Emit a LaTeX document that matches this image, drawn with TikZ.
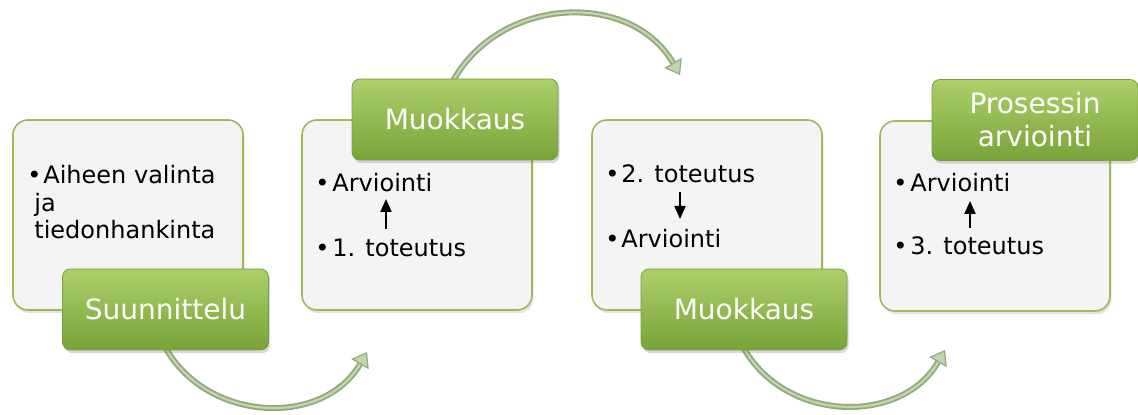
\documentclass[tikz,border=0pt]{standalone}
\usepackage{fontspec}
\setmainfont{DejaVu Sans}
\usetikzlibrary{arrows.meta,shadows}
\definecolor{boxfill}{HTML}{F4F4F4}
\definecolor{boxline}{HTML}{9BBB59}
\definecolor{gtop}{HTML}{ACD06A}
\definecolor{gmid}{HTML}{8FBA4A}
\definecolor{gbot}{HTML}{79A338}
\definecolor{gline}{HTML}{7C9E44}
\definecolor{arrdark}{HTML}{93A97E}
\definecolor{arrlight}{HTML}{C3D5AC}
\tikzset{
  lbox/.style={draw=boxline, line width=0.8pt, fill=boxfill, rounded corners=7.5pt,
    minimum width=115pt, minimum height=95pt, inner sep=0pt,
    drop shadow={opacity=0.22, shadow xshift=0.8pt, shadow yshift=-1.6pt}},
  gbox/.style={draw=gline, line width=0.4pt, top color=gtop, middle color=gmid, bottom color=gbot,
    rounded corners=4pt, minimum width=103pt, minimum height=40.5pt, inner sep=0pt,
    text=white, font=\fontsize{14}{16.5}\selectfont, align=center,
    drop shadow={opacity=0.3, shadow xshift=0.8pt, shadow yshift=-1.6pt}},
  txt/.style={anchor=base west, inner sep=0pt, font=\fontsize{12}{14}\selectfont, text=black},
  blk/.style={line width=1pt, black, -{Triangle[length=6.5pt,width=5.5pt]}},
  curv/.style={line width=3pt, arrdark, -{Triangle[length=7pt,width=10pt,line width=0.6pt,fill=arrlight]}},
  curvin/.style={line width=1.1pt, arrlight},
}
\begin{document}
\begin{tikzpicture}[x=0.5pt,y=0.5pt]
\useasboundingbox (0,0) rectangle (1138,415);

% curved arrows (behind the boxes)
\coordinate (a1s) at (165,68);
\coordinate (a1e) at (367,63);
\coordinate (a2s) at (453,334);
\coordinate (a2e) at (680,340);
\coordinate (a3s) at (743,68);
\coordinate (a3e) at (945,65);
\draw[curv] (a1s) to[out=-61,in=-120,looseness=1.1] (a1e);
\draw[curvin, shorten >=7pt] (a1s) to[out=-61,in=-120,looseness=1.1] (a1e);
\draw[curv] (a2s) to[out=61,in=120,looseness=1.1] (a2e);
\draw[curvin, shorten >=7pt] (a2s) to[out=61,in=120,looseness=1.1] (a2e);
\draw[curv] (a3s) to[out=-61,in=-120,looseness=1.1] (a3e);
\draw[curvin, shorten >=7pt] (a3s) to[out=-61,in=-120,looseness=1.1] (a3e);

% box 1
\node[lbox] (b1) at (128,200) {};
\node[txt] (b1d) at (27,231) {•};
\node[txt] (b1a) at (43,231) {Aiheen valinta};
\node[txt] (b1b) at (34,203.5) {ja};
\node[txt] (b1c) at (34,176) {tiedonhankinta};
\node[gbox] (g1) at (165.5,105.5) {Suunnittelu};

% box 2
\node[lbox] (b2) at (417,200) {};
\node[txt] (b2d1) at (315,223) {•};
\node[txt] (b2a) at (332,223) {Arviointi};
\node[txt] (b2d2) at (315,158) {•};
\node[txt] (b2b) at (332,158) {1. toteutus};
\coordinate (u2s) at (386,186);
\coordinate (u2e) at (386,216);
\draw[blk] (u2s) -- (u2e);
\node[gbox] (g2) at (455,295.5) {Muokkaus};

% box 3
\node[lbox] (b3) at (707,200) {};
\node[txt] (b3d1) at (605,232) {•};
\node[txt] (b3a) at (621,232) {2. toteutus};
\node[txt] (b3d2) at (605,167) {•};
\node[txt] (b3b) at (621,167) {Arviointi};
\coordinate (u3s) at (680,223);
\coordinate (u3e) at (680,196);
\draw[blk] (u3s) -- (u3e);
\node[gbox] (g3) at (744,105.5) {Muokkaus};

% box 4
\node[lbox] (b4) at (995,199) {};
\node[txt] (b4d1) at (893,223) {•};
\node[txt] (b4a) at (910,223) {Arviointi};
\node[txt] (b4d2) at (893,160) {•};
\node[txt] (b4b) at (910,160) {3. toteutus};
\coordinate (u4s) at (970,187);
\coordinate (u4e) at (970,214);
\draw[blk] (u4s) -- (u4e);
\node[gbox] (g4) at (1035,295) {Prosessin\\arviointi};
\end{tikzpicture}
\end{document}
